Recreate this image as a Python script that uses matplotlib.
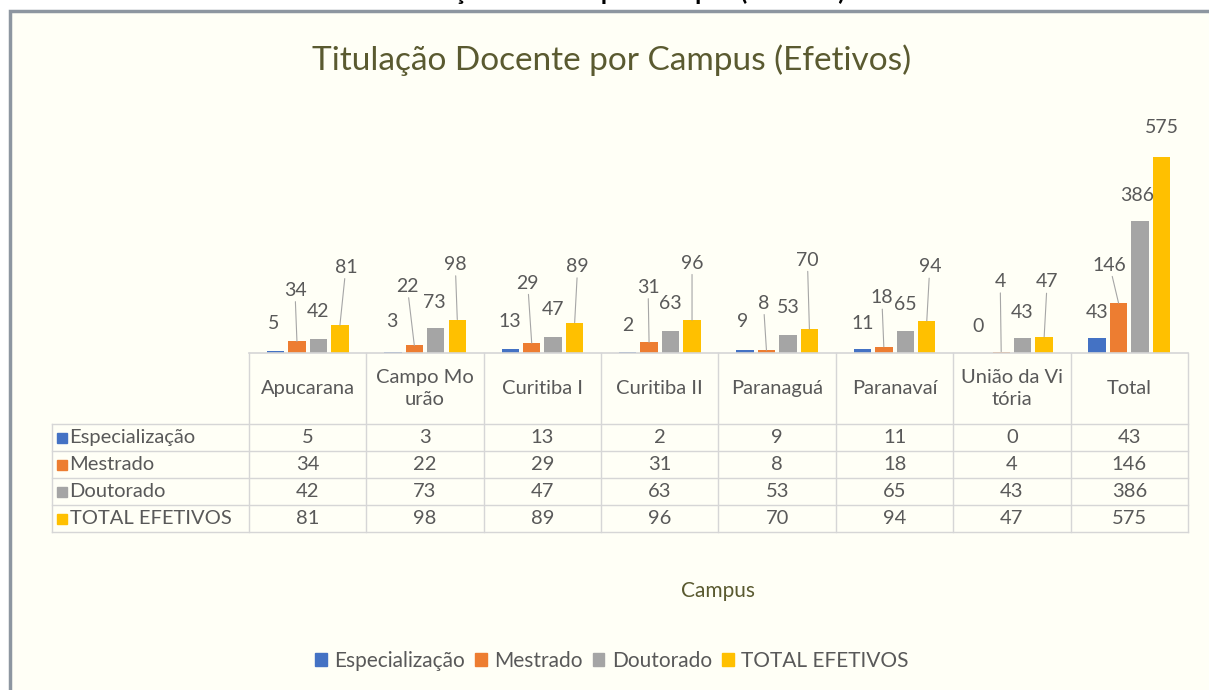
import numpy as np
import matplotlib
matplotlib.use('Agg')
import matplotlib.pyplot as plt
from matplotlib.patches import Rectangle, Patch

# data
campus = ['Apucarana', 'Campo Mo\nurão', 'Curitiba I', 'Curitiba II',
          'Paranaguá', 'Paranavaí', 'União da Vi\ntória', 'Total']
series = ['Especialização', 'Mestrado', 'Doutorado', 'TOTAL EFETIVOS']
especializacao = [5, 3, 13, 2, 9, 11, 0, 43]
mestrado = [34, 22, 29, 31, 8, 18, 4, 146]
doutorado = [42, 73, 47, 63, 53, 65, 43, 386]
total_efetivos = [81, 98, 89, 96, 70, 94, 47, 575]
values = [especializacao, mestrado, doutorado, total_efetivos]

colors = ['#4472C4', '#ED7D31', '#A5A5A5', '#FFC000']
txt_gray = '#595959'
olive = '#5A5A30'

# data label offsets in pixels from the top of each bar (Excel moved labels)
label_dx = [[-2, -1, 0, 0, -2, 0, -2, 0],
            [-2, -7, -4, -1, -3, -2, -1, -9],
            [0, -1, 0, 0, 0, 0, -1, -3],
            [6, -2, 3, 0, -2, 3, 3, 0]]
label_dy = [[-28, -30, -27, -27, -28, -26, -26, -26],
            [-51, -59, -60, -55, -47, -49, -70, -38],
            [-27, -26, -27, -28, -27, -26, -26, -26],
            [-58, -55, -56, -57, -69, -54, -55, -29]]

plt.rcParams['font.family'] = ['Lato', 'DejaVu Sans']

W, H = 1209, 690
fig = plt.figure(figsize=(W / 100, H / 100), dpi=100)
fig.patch.set_facecolor('white')


def fx(px):
    return px / W


def fy(py):
    return 1 - py / H


# chart frame
fig.add_artist(Rectangle((fx(10), -0.1), 1.2, fy(11) + 0.1,
                         transform=fig.transFigure, facecolor='#FFFFF6',
                         edgecolor='#8D96A0', linewidth=2.5, zorder=0))

# heading of the page, cropped at the top edge (only descenders show)
fig.text(fx(617), fy(0), 'Titulação Docente por Campus (Efetivos)',
         ha='center', va='baseline', fontsize=18, fontweight='bold',
         color='black')

fig.text(fx(612), fy(60), 'Titulação Docente por Campus (Efetivos)',
         ha='center', va='center', fontsize=24, color=olive)

# bars
ax = fig.add_axes([fx(249), fy(353), fx(1188) - fx(249), fy(148) - fy(353)])
ax.set_xlim(-0.5, 7.5)
ax.set_ylim(0, 600)
ax.axis('off')

x = np.arange(len(campus))
step = 0.183
width = 0.148
for j, vals in enumerate(values):
    xs = x + (j - 1.5) * step
    ax.bar(xs, vals, width=width, color=colors[j], zorder=2)
    for i, v in enumerate(vals):
        dx, dy = label_dx[j][i], label_dy[j][i]
        if abs(dy) > 35:
            arrow = dict(arrowstyle='-', color='#A6A6A6', lw=0.8,
                         shrinkA=0, shrinkB=0)
        else:
            arrow = None
        ax.annotate(str(v), xy=(xs[i], v), xytext=(dx, -dy),
                    textcoords='offset pixels', ha='center', va='center',
                    fontsize=14, color=txt_gray, arrowprops=arrow,
                    annotation_clip=False)

# data table
hw = (249 - 52) / 117.4
hh = 71 / 27
tab = fig.add_axes([fx(52), fy(532), fx(1188) - fx(52), fy(353) - fy(532)])
tab.set_xlim(-0.5 - hw, 7.5)
tab.set_ylim(hh + 4, 0)
tab.axis('off')
lc = '#D6D6D6'
tab.plot([-0.5, 7.5], [0, 0], color=lc, lw=1.2, clip_on=False)
for k in range(len(campus) + 1):
    tab.plot([-0.5 + k, -0.5 + k], [0, hh + 4], color=lc, lw=1, clip_on=False)
tab.plot([-0.5 - hw, -0.5 - hw], [hh, hh + 4], color=lc, lw=1, clip_on=False)
for r in range(5):
    tab.plot([-0.5 - hw, 7.5], [hh + r, hh + r], color=lc, lw=1, clip_on=False)

for i, name in enumerate(campus):
    tab.text(i, hh / 2, name, ha='center', va='center', fontsize=14.5,
             color=txt_gray, linespacing=1.3)
for r, vals in enumerate(values):
    yc = hh + r + 0.5
    tab.plot(-0.5 - hw + 0.085, yc, 's', color=colors[r], ms=7,
             clip_on=False)
    tab.text(-0.5 - hw + 0.15, yc, series[r], ha='left', va='center',
             fontsize=14.5, color=txt_gray)
    for i, v in enumerate(vals):
        tab.text(i, yc, str(v), ha='center', va='center', fontsize=14.5,
                 color=txt_gray)

fig.text(fx(718), fy(591), 'Campus', ha='center', va='center',
         fontsize=15, color=olive)

handles = [Patch(color=c, label=s) for c, s in zip(colors, series)]
fig.legend(handles=handles, loc='center', bbox_to_anchor=(fx(612), fy(661)),
           ncol=4, frameon=False, handlelength=0.55, handleheight=0.55,
           handletextpad=0.35, columnspacing=0.5, fontsize=15,
           labelcolor=txt_gray)

fig.savefig('out.png', dpi=100)
